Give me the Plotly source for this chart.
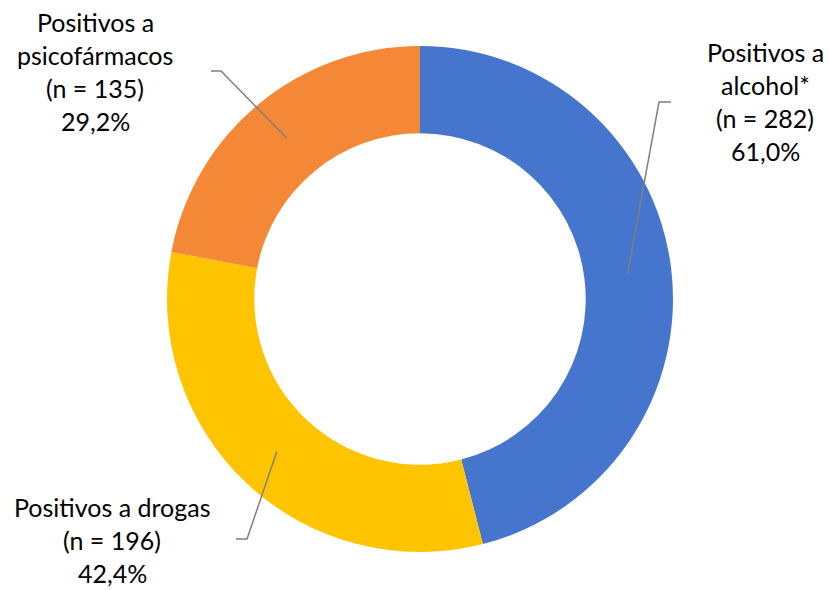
import math
import plotly.graph_objects as go

# ---- data ----
categories = ["Positivos a alcohol*", "Positivos a drogas", "Positivos a psicofármacos"]
counts = [282, 196, 135]
percent_labels = ["61,0%", "42,4%", "29,2%"]
label_lines = [
    ["Positivos a", "alcohol*"],
    ["Positivos a drogas"],
    ["Positivos a", "psicofármacos"],
]
colors = ["#4675CD", "#FFC400", "#F58837"]

W, H = 829, 590
cx, cy, R = 420, 299, 253
hole = 0.655

fig = go.Figure(go.Pie(
    labels=categories,
    values=counts,
    sort=False,
    direction="clockwise",
    rotation=0,
    hole=hole,
    marker=dict(colors=colors, line=dict(width=0)),
    textinfo="none",
    hoverinfo="label+value",
    showlegend=False,
    domain=dict(x=[(cx - R) / W, (cx + R) / W], y=[1 - (cy + R) / H, 1 - (cy - R) / H]),
))

FONT = dict(family="Lato, 'Open Sans', sans-serif", size=25, color="#000000")

# label block placement (pixels): center x, first line y
label_pos = [(765, 52), (112, 507), (95, 22)]
# leader elbow and end (pixels)
leader_elbow = [((659, 102), (671, 102)), ((247, 539), (236, 539)), ((221, 71), (211, 71))]
LINE_H = 33

def px(x):
    return x / W

def py(y):
    return 1 - y / H

annotations = []
shapes = []
total = sum(counts)
start = 0.0
for i, v in enumerate(counts):
    frac = v / total
    mid = (start + frac / 2) * 2 * math.pi
    start += frac
    lines = label_lines[i] + ["(n = %d)" % v, percent_labels[i]]
    lx, ly = label_pos[i]
    for k, t in enumerate(lines):
        annotations.append(dict(
            x=px(lx), y=py(ly + k * LINE_H), xref="paper", yref="paper",
            text=t, showarrow=False, font=FONT, xanchor="center", yanchor="middle",
        ))
    rmid = R * (1 + hole) / 2
    sx = cx + rmid * math.sin(mid)
    sy = cy - rmid * math.cos(mid)
    (ex, ey), (fx, fy) = leader_elbow[i]
    path = "M %f %f L %f %f L %f %f" % (px(sx), py(sy), px(ex), py(ey), px(fx), py(fy))
    shapes.append(dict(type="path", path=path, xref="paper", yref="paper",
                       line=dict(color="#7F7F7F", width=1.5)))

fig.update_layout(
    width=W, height=H,
    margin=dict(l=0, r=0, t=0, b=0),
    paper_bgcolor="white",
    plot_bgcolor="white",
    annotations=annotations,
    shapes=shapes,
)

fig.write_html("out.html")
